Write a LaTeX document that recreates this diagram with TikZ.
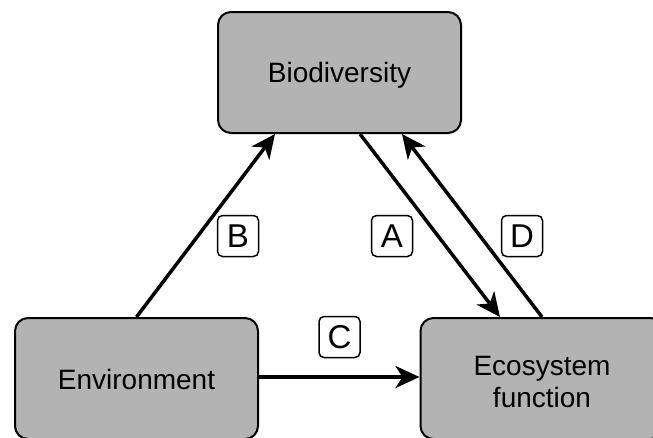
\documentclass[tikz,border=0pt]{standalone}
\usepackage{fontspec}
\setmainfont{Liberation Sans}
\usetikzlibrary{arrows.meta}
\definecolor{boxgrey}{RGB}{179,179,179}
% lower a text inside its box, keeping the box's own size
\newcommand{\dropby}[2]{\raisebox{-#1}[\height][\depth]{#2}}
\tikzset{
  block/.style={draw=black, line width=2pt, fill=boxgrey, rounded corners=13pt,
    minimum width=243pt, minimum height=121pt, inner sep=0pt, align=center,
    font=\fontsize{28}{32}\selectfont},
  tag/.style={draw=black, line width=1.5pt, rounded corners=5pt,
    minimum width=41pt, minimum height=41pt, inner sep=0pt,
    font=\fontsize{33}{33}\selectfont},
  link/.style={line width=3.5pt, -{Stealth[length=24pt, width=22pt, inset=7pt]}}
}
\begin{document}
\begin{tikzpicture}[x=1pt, y=-1pt]
  \useasboundingbox (0,0) rectangle (653,437);
  \clip (0,0) rectangle (653,437);
  % the three components
  \node[block] (bio) at (339.5,72.5) {\dropby{3pt}{Biodiversity}};
  \node[block] (env) at (136.5,378.5) {\dropby{1pt}{Environment}};
  \node[block] (eco) at (542,378.5)
    {\dropby{7pt}{\begin{tabular}{@{}c@{}}Ecosystem\\function\end{tabular}}};
  % relations between them
  \draw[link] (env.north) -- ([xshift=-64.5pt]bio.south);
  \draw[link] ([xshift=20.5pt]bio.south) -- ([xshift=-42pt]eco.north);
  \draw[link] (eco.north) -- ([xshift=62.5pt]bio.south);
  \draw[link] (env.east |- 0,377) -- (eco.west |- 0,377);
  % labels of the relations
  \node[tag] (tagB) at (238,236) {B};
  \node[tag] (tagA) at (392,236) {A};
  \node[tag] (tagD) at (522,236) {D};
  \node[tag] (tagC) at (339.5,337) {C};
\end{tikzpicture}
\end{document}
